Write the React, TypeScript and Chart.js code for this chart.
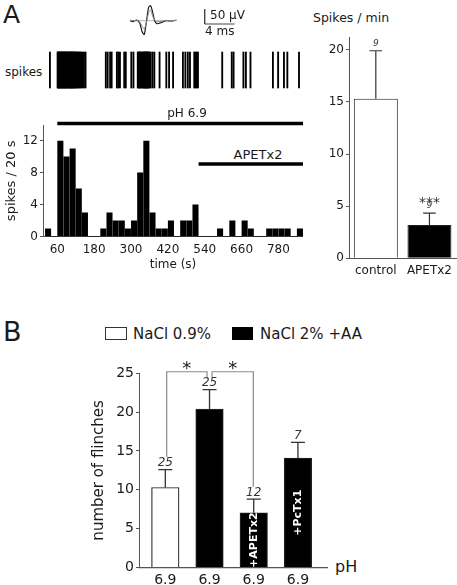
import React, { useEffect, useRef } from "react";
import { Chart, registerables } from "chart.js";

Chart.register(...registerables);

const FONT = "'DejaVu Sans', Verdana, sans-serif";
Chart.defaults.font.family = FONT;

// ---------------- Panel A data ----------------
const binStart = 20; // s
const binWidth = 20; // s
const spikeCounts = [1, 0, 12, 10, 11, 6, 3, 0, 0, 1, 3, 2, 2, 1, 2, 8, 12, 3, 1, 1, 2, 0, 2, 2, 4, 0, 0, 0, 1, 0, 2, 0, 2, 1, 0, 0, 1, 1, 1, 1, 0, 1];
const timeTicks = [60, 180, 300, 420, 540, 660, 780];
const histYTicks = [0, 4, 8, 12];
const spikeTimes = [
  36,
  61, 62.5, 64, 65.5, 67, 68.5, 70, 72, 73.5, 75, 77, 79,
  81, 83, 84.5, 86, 88, 90, 92, 94, 96, 98.5,
  101, 102.5, 104, 106, 108, 109.5, 111, 113, 115, 117, 119,
  122, 125, 128, 131, 135, 138,
  143, 147, 152,
  218,
  224, 232, 237,
  254, 259,
  264, 278,
  283,
  301, 308,
  322, 324, 327, 329, 331, 334, 336, 339,
  341, 342.5, 344, 345.5, 347, 349, 350.5, 352, 354, 355.5, 357, 359,
  364, 370, 376,
  393,
  415,
  424, 437,
  469, 477,
  485, 492,
  506, 510, 514, 518,
  597,
  628, 634,
  666, 674,
  689,
  762, 779, 798, 809,
  847,
];
const phPeriod = [60, 860];
const phLevel = 14.2;
const apetPeriod = [520, 860];
const apetLevel = 9.1;

// spike waveform (ms, µV)
const waveT = [0, 0.4, 0.9, 1.3, 1.6, 1.9, 2.2, 2.5, 2.75, 3.0, 3.3, 3.6, 4.2, 4.9, 5.5, 6.2];
const waveBlack = [0, -3, 2, -8, -35, -46, -2, 45, 50, 32, 0, -10, -6, 0, -1, 2];
const waveGrey = [2, 0, 1, -4, -18, -28, -6, 28, 36, 18, 2, -4, -2, 1, 0, 1];
const scaleBarT = [10, 10, 14];
const scaleBarV = [39, -11, -11];

// spikes / min
const rateLabels = ["control", "APETx2"];
const rateMeans = [15.3, 3.2];
const rateSem = [4.6, 1.14];
const rateN = ["9", "9"];
const rateSig = ["", "***"];
const rateTicks = [0, 5, 10, 15, 20];

// ---------------- Panel B data ----------------
const legendItems = ["NaCl 0.9%", "NaCl 2% +AA"];
const flinchPos = [1, 2, 3, 4];
const flinchPH = ["6.9", "6.9", "6.9", "6.9"];
const flinchGroup = [0, 1, 1, 1];
const flinchMeans = [10.3, 20.4, 7.05, 14.1];
const flinchSem = [2.3, 2.5, 1.75, 2.0];
const flinchN = ["25", "25", "12", "7"];
const flinchInside = ["", "", "+APETx2", "+PcTx1"];
const flinchTicks = [0, 5, 10, 15, 20, 25];
const comparisons = [[0, 1], [1, 2]];
const comparisonSig = ["*", "*"];
const bracketLevel = 25.2;

// ---------------- styles ----------------
const AXIS = "#555";
const TXT = "#1a1a1a";
const groupFill = ["#ffffff", "#000000"];

const baseOpts = {
  animation: false,
  responsive: false,
  maintainAspectRatio: false,
  events: [],
  plugins: { legend: { display: false }, tooltip: { enabled: false } },
};

function fixedTicks(list: number[]) {
  return (s: any) => {
    s.ticks = list.map((v) => ({ value: v }));
  };
}

function yAxis(list: number[], min: number, max: number, size: number, width: number, title?: string, titleSize?: number) {
  return {
    min,
    max,
    grid: { display: true, drawOnChartArea: false, drawTicks: true, tickLength: 3, color: AXIS, lineWidth: 1 },
    border: { display: true, color: AXIS, width: 1 },
    ticks: { font: { size }, color: TXT, padding: 2, autoSkip: false },
    afterBuildTicks: fixedTicks(list),
    afterFit: (s: any) => {
      s.width = width;
    },
    title: title
      ? { display: true, text: title, font: { size: titleSize }, color: TXT, padding: { top: 4, bottom: 2 } }
      : { display: false },
  };
}

// ---------------- chart configs ----------------
function rasterConfig() {
  return {
    type: "bar",
    data: {
      datasets: [
        {
          data: spikeTimes.map((t) => ({ x: t, y: [0.05, 0.95] })),
          backgroundColor: "#000",
          borderWidth: 0,
          barThickness: 1.2,
        },
      ],
    },
    options: {
      ...baseOpts,
      scales: {
        x: { type: "linear", min: 13.5, max: 860, display: false, offset: false, grid: { offset: false } },
        y: { min: 0, max: 1, display: false },
      },
    },
  };
}

function histConfig() {
  return {
    type: "bar",
    data: {
      datasets: [
        {
          type: "bar",
          data: spikeCounts.map((c, i) => ({ x: binStart + binWidth * (i + 0.5), y: c })),
          backgroundColor: "#000",
          borderWidth: 0,
          barThickness: 5.4,
        },
        {
          type: "line",
          data: [
            { x: phPeriod[0], y: phLevel },
            { x: phPeriod[1], y: phLevel },
          ],
          borderColor: "#000",
          borderWidth: 3.5,
          pointRadius: 0,
          clip: false,
        },
        {
          type: "line",
          data: [
            { x: apetPeriod[0], y: apetLevel },
            { x: apetPeriod[1], y: apetLevel },
          ],
          borderColor: "#000",
          borderWidth: 3.5,
          pointRadius: 0,
          clip: false,
        },
      ],
    },
    options: {
      ...baseOpts,
      layout: { padding: { top: 20, left: 0, right: 0, bottom: 0 } },
      scales: {
        x: {
          type: "linear",
          min: 13.5,
          max: 860,
          offset: false,
          grid: { display: false, drawTicks: false, offset: false },
          border: { display: true, color: AXIS, width: 1 },
          ticks: { font: { size: 12 }, color: TXT, padding: 6, autoSkip: false, maxRotation: 0, callback: (v: any) => String(v) },
          afterBuildTicks: fixedTicks(timeTicks),
          title: { display: true, text: "time (s)", font: { size: 12 }, color: TXT, padding: { top: 0, bottom: 4 } },
          afterFit: (s: any) => {
            s.height = 39.3;
          },
        },
        y: yAxis(histYTicks, 0, 14, 12, 43, "spikes / 20 s", 13),
      },
    },
  };
}

function waveConfig() {
  return {
    type: "line",
    data: {
      datasets: [
        {
          data: waveT.map((t, i) => ({ x: t, y: waveGrey[i] })),
          borderColor: "#888",
          borderWidth: 1,
          pointRadius: 0,
          tension: 0.3,
          clip: false,
        },
        {
          data: waveT.map((t, i) => ({ x: t, y: waveBlack[i] })),
          borderColor: "#111",
          borderWidth: 1.1,
          pointRadius: 0,
          tension: 0.3,
          clip: false,
        },
        {
          data: waveT.map((t) => ({ x: t, y: 0 })),
          borderColor: "#999",
          borderWidth: 0.8,
          pointRadius: 0,
          clip: false,
        },
        {
          data: scaleBarT.map((t, i) => ({ x: t, y: scaleBarV[i] })),
          borderColor: "#444",
          borderWidth: 1,
          pointRadius: 0,
          clip: false,
        },
      ],
    },
    options: {
      ...baseOpts,
      scales: {
        x: { type: "linear", min: 0, max: 15, display: false },
        y: { min: -71, max: 69, display: false },
      },
    },
  };
}

function ratePlugin() {
  return {
    id: "rateAnnot",
    afterDatasetsDraw(chart: any) {
      const { ctx } = chart;
      const ys = chart.scales.y;
      const meta = chart.getDatasetMeta(0);
      ctx.save();
      meta.data.forEach((bar: any, i: number) => {
        const x = bar.x;
        const y0 = ys.getPixelForValue(rateMeans[i]);
        const y1 = ys.getPixelForValue(rateMeans[i] + rateSem[i]);
        ctx.strokeStyle = "#333";
        ctx.lineWidth = 1.2;
        ctx.beginPath();
        ctx.moveTo(x, y0);
        ctx.lineTo(x, y1);
        ctx.moveTo(x - 6.3, y1);
        ctx.lineTo(x + 6.3, y1);
        ctx.stroke();
        ctx.fillStyle = "#333";
        ctx.textAlign = "center";
        ctx.textBaseline = "alphabetic";
        ctx.font = `italic 9px ${FONT}`;
        ctx.fillText(rateN[i], x, y1 - 4.8);
        if (rateSig[i]) {
          ctx.font = `14px ${FONT}`;
          ctx.fillText(rateSig[i], x, y1 - 6.5);
        }
      });
      ctx.restore();
    },
  };
}

function rateConfig() {
  return {
    type: "bar",
    data: {
      labels: rateLabels,
      datasets: [
        {
          data: rateMeans,
          backgroundColor: ["#ffffff", "#000000"],
          borderColor: "#222",
          borderWidth: 1,
          barPercentage: 0.82,
          categoryPercentage: 1,
        },
      ],
    },
    options: {
      ...baseOpts,
      layout: { padding: { top: 4, left: 0, right: 0, bottom: 0 } },
      scales: {
        x: {
          grid: { display: false, drawTicks: false },
          border: { display: true, color: AXIS, width: 1 },
          ticks: { font: { size: 12 }, color: TXT, padding: 5, maxRotation: 0 },
          afterFit: (s: any) => {
            s.height = 26.7;
          },
        },
        y: yAxis(rateTicks, 0, 21.2, 12, 39),
      },
    },
    plugins: [ratePlugin()],
  };
}

function flinchPlugin() {
  return {
    id: "flinchAnnot",
    afterDatasetsDraw(chart: any) {
      const { ctx } = chart;
      const ys = chart.scales.y;
      const meta = chart.getDatasetMeta(0);
      const errTop: number[] = [];
      ctx.save();
      meta.data.forEach((bar: any, i: number) => {
        const x = bar.x;
        const y0 = ys.getPixelForValue(flinchMeans[i]);
        const y1 = ys.getPixelForValue(flinchMeans[i] + flinchSem[i]);
        errTop.push(y1);
        ctx.strokeStyle = "#333";
        ctx.lineWidth = 1.3;
        ctx.beginPath();
        ctx.moveTo(x, y0);
        ctx.lineTo(x, y1);
        ctx.moveTo(x - 7, y1);
        ctx.lineTo(x + 7, y1);
        ctx.stroke();
        ctx.fillStyle = "#333";
        ctx.textAlign = "center";
        ctx.textBaseline = "alphabetic";
        ctx.font = `italic 12px ${FONT}`;
        ctx.fillText(flinchN[i], x, y1 - 3.5);
        if (flinchInside[i]) {
          ctx.save();
          ctx.translate(x, (y0 + ys.bottom) / 2);
          ctx.rotate(-Math.PI / 2);
          ctx.fillStyle = "#fff";
          ctx.font = `bold 11px ${FONT}`;
          ctx.textBaseline = "middle";
          ctx.fillText(flinchInside[i], 0, 0.5);
          ctx.restore();
        }
      });
      // significance brackets
      const lvl = ys.getPixelForValue(bracketLevel);
      ctx.strokeStyle = "#8a8a8a";
      ctx.lineWidth = 1.2;
      comparisons.forEach(([a, b], k) => {
        const sharedA = comparisons.some(([, bb]) => bb === a);
        const sharedB = comparisons.some(([aa]) => aa === b);
        const xa = meta.data[a].x + (sharedA ? 2.5 : 1.4);
        const xb = meta.data[b].x + (sharedB ? -2.5 : -0.4);
        const ya = Math.max(lvl + 4, errTop[a] - 12.5);
        const yb = Math.max(lvl + 4, errTop[b] - 12.5);
        ctx.beginPath();
        ctx.moveTo(xa, ya);
        ctx.lineTo(xa, lvl);
        ctx.lineTo(xb, lvl);
        ctx.lineTo(xb, yb);
        ctx.stroke();
        ctx.fillStyle = "#222";
        ctx.font = `18px ${FONT}`;
        ctx.textAlign = "center";
        ctx.textBaseline = "alphabetic";
        ctx.fillText(comparisonSig[k], (xa + xb) / 2, lvl + 2.5);
      });
      ctx.restore();
    },
  };
}

function flinchConfig() {
  return {
    type: "bar",
    data: {
      datasets: [
        {
          data: flinchPos.map((p, i) => ({ x: p, y: flinchMeans[i] })),
          backgroundColor: flinchGroup.map((g) => groupFill[g]),
          borderColor: "#222",
          borderWidth: 1.2,
          barThickness: 27.5,
        },
      ],
    },
    options: {
      ...baseOpts,
      layout: { padding: { top: 23.3, left: 0, right: 0, bottom: 0 } },
      scales: {
        x: {
          type: "linear",
          min: 0.405,
          max: 4.68,
          offset: false,
          grid: { display: false, drawTicks: false, offset: false },
          border: { display: true, color: AXIS, width: 1.2 },
          ticks: {
            font: { size: 14 },
            color: TXT,
            padding: 4,
            autoSkip: false,
            maxRotation: 0,
            callback: (v: any) => {
              const i = flinchPos.indexOf(Number(v));
              return i >= 0 ? flinchPH[i] : "";
            },
          },
          afterBuildTicks: fixedTicks(flinchPos),
          afterFit: (s: any) => {
            s.height = 17.5;
          },
        },
        y: yAxis(flinchTicks, 0, 25, 14, 53, "number of flinches", 15),
      },
    },
    plugins: [flinchPlugin()],
  };
}

// ---------------- components ----------------
function ChartBox({ left, top, width, height, make }: { left: number; top: number; width: number; height: number; make: () => any }) {
  const ref = useRef<HTMLCanvasElement | null>(null);
  useEffect(() => {
    const chart = new Chart(ref.current as HTMLCanvasElement, make());
    return () => chart.destroy();
  }, []);
  return (
    <canvas
      ref={ref}
      width={width}
      height={height}
      style={{ position: "absolute", left, top, width, height }}
    />
  );
}

function Label({ x, y, size, children, align = "left", style = {} }: any) {
  const tx = align === "left" ? "0" : align === "center" ? "-50%" : "-100%";
  return (
    <div
      style={{
        position: "absolute",
        left: x,
        top: y,
        transform: `translate(${tx}, -50%)`,
        fontSize: size,
        lineHeight: 1,
        whiteSpace: "nowrap",
        color: TXT,
        ...style,
      }}
    >
      {children}
    </div>
  );
}

export default function App() {
  return (
    <div
      style={{
        position: "absolute",
        left: 0,
        top: 0,
        width: 457,
        height: 585,
        background: "#fff",
        fontFamily: FONT,
        overflow: "hidden",
      }}
    >
      {/* Panel A */}
      <Label x={3} y={14} size={25}>A</Label>
      <ChartBox left={130} top={0} width={112} height={42} make={waveConfig} />
      <Label x={210} y={15} size={12}>50 µV</Label>
      <Label x={205} y={31} size={12}>4 ms</Label>
      <Label x={5} y={71.5} size={12}>spikes</Label>
      <ChartBox left={43} top={50} width={260} height={40} make={rasterConfig} />
      <Label x={187} y={113} size={12} align="center">pH 6.9</Label>
      <Label x={258} y={153.5} size={13} align="center">APETx2</Label>
      <ChartBox left={0} top={105} width={303} height={171} make={histConfig} />
      <Label x={313} y={18} size={12.5}>Spikes / min</Label>
      <ChartBox left={310} top={28} width={147} height={257} make={rateConfig} />

      {/* Panel B */}
      <Label x={3} y={330.5} size={27}>B</Label>
      <div style={{ position: "absolute", left: 105, top: 327, width: 20, height: 11, border: "1px solid #333", background: groupFill[0] }} />
      <Label x={133} y={333.5} size={15}>{legendItems[0]}</Label>
      <div style={{ position: "absolute", left: 232, top: 327, width: 21, height: 13, background: groupFill[1] }} />
      <Label x={260} y={333.5} size={15}>{legendItems[1]}</Label>
      <ChartBox left={86} top={350} width={242} height={235} make={flinchConfig} />
      <Label x={335} y={567} size={16}>pH</Label>
    </div>
  );
}
